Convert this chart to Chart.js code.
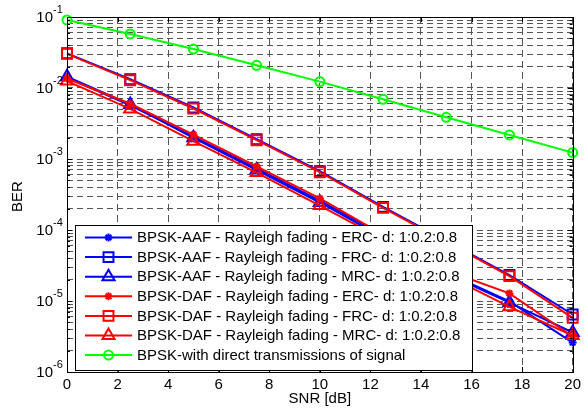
<!DOCTYPE html>
<html><head><meta charset="utf-8">
<script src="https://cdn.jsdelivr.net/npm/chart.js@4.4.0/dist/chart.umd.min.js"></script>
<style>html,body{margin:0;padding:0;background:#fff;}#wrap{width:585px;height:411px;position:relative;}</style>
</head><body><div id="wrap"><canvas id="c" width="585" height="411"></canvas></div>
<script>
const snr = [0, 2.5, 5, 7.5, 10, 12.5, 15, 17.5, 20];
const aafErc = [0.0140, 0.0057, 0.00207, 7.35e-4, 2.60e-4, 8.37e-5, 2.52e-5, 9.84e-6, 2.6e-6];
const aafFrc = [0.0308, 0.0133, 0.00532, 0.00190, 6.75e-4, 2.12e-4, 7.0e-5, 2.32e-5, 6.45e-6];
const aafMrc = [0.0144, 0.00586, 0.00199, 7.0e-4, 2.44e-4, 7.84e-5, 2.44e-5, 9.5e-6, 3.6e-6];
const dafErc = [0.0136, 0.0060, 0.00221, 7.84e-4, 2.78e-4, 8.64e-5, 2.69e-5, 1.28e-5, 3.16e-6];
const dafFrc = [0.0303, 0.01288, 0.00514, 0.00184, 6.52e-4, 2.05e-4, 6.78e-5, 2.24e-5, 5.8e-6];
const dafMrc = [0.0125, 0.00508, 0.00178, 6.45e-4, 2.21e-4, 7.35e-5, 2.32e-5, 8.28e-6, 3.27e-6];
const direct = [0.0908, 0.0577, 0.0354, 0.0209, 0.0123, 0.00693, 0.00387, 0.00218, 0.00123];
const seriesLabels = [
  'BPSK-AAF - Rayleigh fading - ERC- d: 1:0.2:0.8',
  'BPSK-AAF - Rayleigh fading - FRC- d: 1:0.2:0.8',
  'BPSK-AAF - Rayleigh fading - MRC- d: 1:0.2:0.8',
  'BPSK-DAF - Rayleigh fading - ERC- d: 1:0.2:0.8',
  'BPSK-DAF - Rayleigh fading - FRC- d: 1:0.2:0.8',
  'BPSK-DAF - Rayleigh fading - MRC- d: 1:0.2:0.8',
  'BPSK-with direct transmissions of signal'
];
const xTicks = [0, 2, 4, 6, 8, 10, 12, 14, 16, 18, 20];
const yDecades = [-6, -5, -4, -3, -2, -1];
const xTitle = 'SNR [dB]';
const yTitle = 'BER';

const seriesValues = [aafErc, aafFrc, aafMrc, dafErc, dafFrc, dafMrc, direct];
const colors = ['#0000ff', '#0000ff', '#0000ff', '#ff0000', '#ff0000', '#ff0000', '#00ff00'];
const styles = ['star', 'rect', 'triangle', 'star', 'rect', 'triangle', 'circle'];
const radii = [4, 7, 7, 4, 7, 7, 4.5];

const FONT = '"Liberation Sans", Arial, sans-serif';
const FS = 15;

const yTickVals = [];
yDecades.forEach(e => {
  if (e === -1) { yTickVals.push(Math.pow(10, e)); return; }
  for (let m = 1; m <= 9; m++) yTickVals.push(m * Math.pow(10, e));
});

const datasets = seriesValues.map((vals, i) => ({
  label: seriesLabels[i],
  data: snr.map((x, j) => ({ x: x, y: vals[j] })),
  borderColor: colors[i],
  backgroundColor: colors[i],
  borderWidth: 2,
  pointStyle: styles[i],
  pointRadius: radii[i],
  pointBorderWidth: 2,
  pointBackgroundColor: 'rgba(0,0,0,0)',
  pointBorderColor: colors[i],
  tension: 0,
  clip: false,
  order: 6 - i
}));

function drawMarker(ctx, style, r, x, y) {
  ctx.beginPath();
  if (style === 'circle') {
    ctx.arc(x, y, r, 0, Math.PI * 2);
  } else if (style === 'rect') {
    const s = Math.SQRT1_2 * r;
    ctx.rect(x - s, y - s, 2 * s, 2 * s);
  } else if (style === 'triangle') {
    let a = 0;
    ctx.moveTo(x + Math.sin(a) * r, y - Math.cos(a) * r);
    a += 2 * Math.PI / 3;
    ctx.lineTo(x + Math.sin(a) * r, y - Math.cos(a) * r);
    a += 2 * Math.PI / 3;
    ctx.lineTo(x + Math.sin(a) * r, y - Math.cos(a) * r);
    ctx.closePath();
  } else if (style === 'star') {
    ctx.moveTo(x, y - r); ctx.lineTo(x, y + r);
    ctx.moveTo(x - r, y); ctx.lineTo(x + r, y);
    const d = r * Math.SQRT1_2;
    ctx.moveTo(x - d, y - d); ctx.lineTo(x + d, y + d);
    ctx.moveTo(x - d, y + d); ctx.lineTo(x + d, y - d);
  }
  ctx.stroke();
}

const deco = {
  id: 'deco',
  afterDatasetsDraw(chart) {
    const ctx = chart.ctx;
    const a = chart.chartArea;
    const xs = chart.scales.x, ys = chart.scales.y;
    ctx.save();
    ctx.strokeStyle = '#000'; ctx.lineWidth = 1; ctx.setLineDash([]);
    ctx.beginPath();
    xTicks.forEach(v => {
      const px = Math.round(xs.getPixelForValue(v)) + 0.5;
      ctx.moveTo(px, a.bottom); ctx.lineTo(px, a.bottom - 5);
      ctx.moveTo(px, a.top); ctx.lineTo(px, a.top + 5);
    });
    yTickVals.forEach(v => {
      const py = Math.round(ys.getPixelForValue(v)) + 0.5;
      const major = Math.abs(Math.log10(v) - Math.round(Math.log10(v))) < 1e-9;
      const L = major ? 5 : 3;
      ctx.moveTo(a.left, py); ctx.lineTo(a.left + L, py);
      ctx.moveTo(a.right, py); ctx.lineTo(a.right - L, py);
    });
    ctx.stroke();
    ctx.strokeRect(Math.round(a.left) + 0.5, Math.round(a.top) + 0.5, Math.round(a.right - a.left), Math.round(a.bottom - a.top));
    ctx.fillStyle = '#000';
    yDecades.forEach(e => {
      const py = ys.getPixelForValue(Math.pow(10, e));
      ctx.font = FS + 'px ' + FONT;
      ctx.textAlign = 'right'; ctx.textBaseline = 'middle';
      ctx.fillText('10', 53, py + 0.5);
      ctx.font = '11px ' + FONT;
      ctx.textAlign = 'left';
      ctx.fillText(String(e), 53, py - 7);
    });
    ctx.save();
    ctx.translate(18, (a.top + a.bottom) / 2 + 2);
    ctx.rotate(-Math.PI / 2);
    ctx.font = FS + 'px ' + FONT;
    ctx.textAlign = 'center'; ctx.textBaseline = 'middle';
    ctx.fillText(yTitle, 0, 0);
    ctx.restore();
    ctx.font = FS + 'px ' + FONT;
    ctx.textAlign = 'center'; ctx.textBaseline = 'middle';
    ctx.fillText(xTitle, (a.left + a.right) / 2, 399);
    const lx = 75, ly = 225, lw = 397, lh = 145;
    ctx.fillStyle = '#fff';
    ctx.fillRect(lx, ly, lw, lh);
    ctx.strokeStyle = '#000'; ctx.lineWidth = 1;
    ctx.strokeRect(lx + 0.5, ly + 0.5, lw, lh);
    chart.data.datasets.forEach((ds, i) => {
      const cy = 237.5 + i * 19.6;
      ctx.strokeStyle = ds.borderColor; ctx.lineWidth = 2;
      ctx.beginPath(); ctx.moveTo(85, cy); ctx.lineTo(132, cy); ctx.stroke();
      drawMarker(ctx, ds.pointStyle, ds.pointRadius, 108.5, cy);
      ctx.fillStyle = '#000';
      ctx.font = FS + 'px ' + FONT;
      ctx.textAlign = 'left'; ctx.textBaseline = 'middle';
      ctx.fillText(ds.label, 137, cy + 0.5);
    });
    ctx.restore();
  }
};

new Chart(document.getElementById('c'), {
  type: 'line',
  data: { datasets: datasets },
  options: {
    responsive: false,
    devicePixelRatio: 1,
    animation: false,
    layout: { padding: { top: 17, right: 9, left: 0, bottom: 0 } },
    plugins: { legend: { display: false }, tooltip: { enabled: false } },
    scales: {
      x: {
        type: 'linear', min: 0, max: 20,
        afterBuildTicks: s => { s.ticks = xTicks.map(v => ({ value: v })); },
        afterFit: s => { s.height = 39; },
        ticks: { color: '#000', font: { size: FS, family: FONT }, padding: 4, maxRotation: 0, autoSkip: false },
        grid: { color: '#555', lineWidth: 1, drawTicks: false },
        border: { display: false, dash: [7, 4] }
      },
      y: {
        type: 'logarithmic', min: 1e-6, max: 1e-1,
        afterBuildTicks: s => { s.ticks = yTickVals.map(v => ({ value: v })); },
        afterFit: s => { s.width = 67; },
        ticks: { callback: () => '', autoSkip: false },
        grid: { color: '#555', lineWidth: 1, drawTicks: false },
        border: { display: false, dash: [6, 4] }
      }
    }
  },
  plugins: [deco]
});
</script>
</body></html>
